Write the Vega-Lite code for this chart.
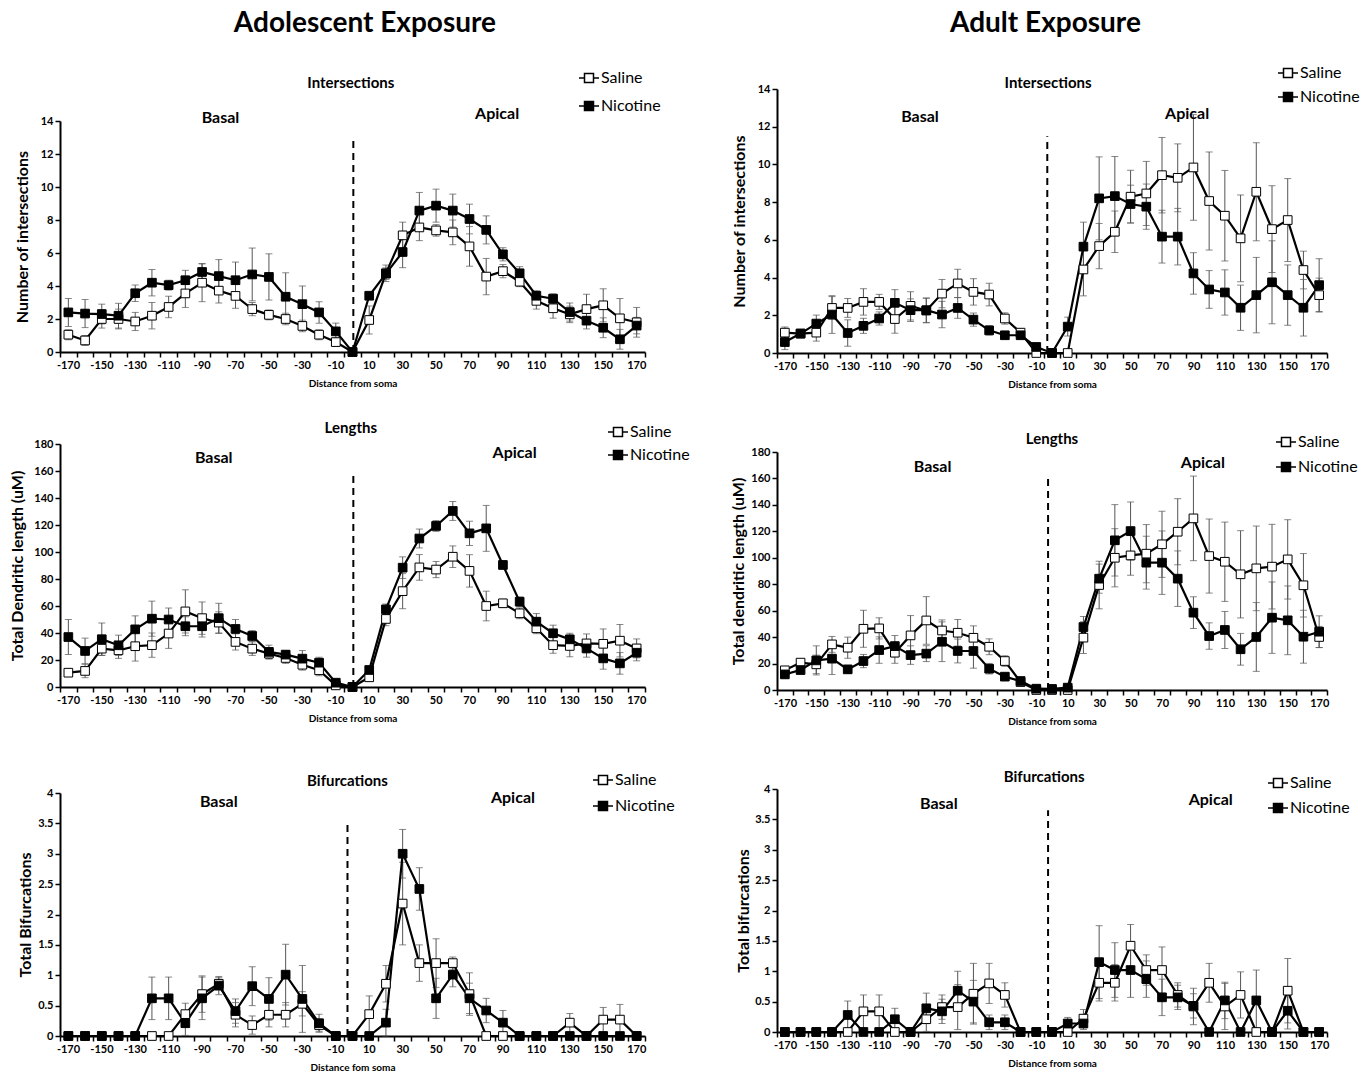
{
"$schema":"https://vega.github.io/schema/vega-lite/v6.json",
"background":"white",
"padding":{"left":9,"top":10,"right":5,"bottom":5},
"config":{"view":{"stroke":null},"font":"Lato",
 "axis":{"grid":false,"domainColor":"black","domainWidth":2,"tickColor":"black","tickWidth":1.5,"tickSize":5,"labelColor":"black","labelFont":"Lato","labelFontSize":11,"labelFontWeight":"bold","titleColor":"black","titleFont":"Lato","titleFontWeight":"bold"},
 "axisY":{"titleFontSize":16,"titlePadding":6,"format":".2~f","labelOverlap":false},
 "axisX":{"titleFontSize":10,"titlePadding":8,"labelFlush":false,"labelOverlap":false},
 "legend":{"title":null,"orient":"none","symbolType":"M-1,0H-0.45M0.45,0H1M-0.45,-0.45H0.45V0.45H-0.45Z","symbolSize":400,"symbolStrokeColor":"black","symbolStrokeWidth":1.5,"labelFontSize":16,"labelFont":"Lato","labelColor":"black","labelOffset":1,"rowPadding":10}
},
"datasets":{
"ai":[
{"d":-170,"g":"Saline","v":1.05,"e":0.3},{"d":-160,"g":"Saline","v":0.7,"e":0.3},{"d":-150,"g":"Saline","v":2.0,"e":0.55},{"d":-140,"g":"Saline","v":2.0,"e":0.6},{"d":-130,"g":"Saline","v":1.85,"e":0.55},{"d":-120,"g":"Saline","v":2.2,"e":0.8},{"d":-110,"g":"Saline","v":2.73,"e":0.65},{"d":-100,"g":"Saline","v":3.55,"e":0.85},{"d":-90,"g":"Saline","v":4.2,"e":1.15},{"d":-80,"g":"Saline","v":3.72,"e":0.75},{"d":-70,"g":"Saline","v":3.4,"e":0.75},{"d":-60,"g":"Saline","v":2.6,"e":0.4},{"d":-50,"g":"Saline","v":2.25,"e":0.3},{"d":-40,"g":"Saline","v":2.0,"e":0.35},{"d":-30,"g":"Saline","v":1.58,"e":0.35},{"d":-20,"g":"Saline","v":1.05,"e":0.3},{"d":-10,"g":"Saline","v":0.6,"e":0.25},{"d":0,"g":"Saline","v":0,"e":0},{"d":10,"g":"Saline","v":1.94,"e":0.85},{"d":20,"g":"Saline","v":4.77,"e":0.5},{"d":30,"g":"Saline","v":7.07,"e":0.8},{"d":40,"g":"Saline","v":7.55,"e":0.8},{"d":50,"g":"Saline","v":7.37,"e":0.35},{"d":60,"g":"Saline","v":7.25,"e":0.75},{"d":70,"g":"Saline","v":6.4,"e":1.2},{"d":80,"g":"Saline","v":4.57,"e":1.1},{"d":90,"g":"Saline","v":4.9,"e":0.4},{"d":100,"g":"Saline","v":4.26,"e":0.3},{"d":110,"g":"Saline","v":3.1,"e":0.5},{"d":120,"g":"Saline","v":2.65,"e":0.6},{"d":130,"g":"Saline","v":2.28,"e":0.5},{"d":140,"g":"Saline","v":2.6,"e":0.9},{"d":150,"g":"Saline","v":2.83,"e":1.0},{"d":160,"g":"Saline","v":2.04,"e":1.2},{"d":170,"g":"Saline","v":1.8,"e":0.9},
{"d":-170,"g":"Nicotine","v":2.4,"e":0.85},{"d":-160,"g":"Nicotine","v":2.33,"e":0.85},{"d":-150,"g":"Nicotine","v":2.3,"e":0.6},{"d":-140,"g":"Nicotine","v":2.2,"e":0.75},{"d":-130,"g":"Nicotine","v":3.56,"e":0.5},{"d":-120,"g":"Nicotine","v":4.2,"e":0.8},{"d":-110,"g":"Nicotine","v":4.05,"e":0.3},{"d":-100,"g":"Nicotine","v":4.35,"e":0.6},{"d":-90,"g":"Nicotine","v":4.85,"e":0.5},{"d":-80,"g":"Nicotine","v":4.6,"e":1.0},{"d":-70,"g":"Nicotine","v":4.35,"e":1.1},{"d":-60,"g":"Nicotine","v":4.7,"e":1.6},{"d":-50,"g":"Nicotine","v":4.55,"e":1.4},{"d":-40,"g":"Nicotine","v":3.35,"e":1.45},{"d":-30,"g":"Nicotine","v":2.9,"e":1.1},{"d":-20,"g":"Nicotine","v":2.4,"e":0.65},{"d":-10,"g":"Nicotine","v":1.25,"e":0.5},{"d":0,"g":"Nicotine","v":0,"e":0},{"d":10,"g":"Nicotine","v":3.41,"e":0.2},{"d":20,"g":"Nicotine","v":4.75,"e":0.35},{"d":30,"g":"Nicotine","v":6.06,"e":0.95},{"d":40,"g":"Nicotine","v":8.57,"e":1.1},{"d":50,"g":"Nicotine","v":8.87,"e":1.0},{"d":60,"g":"Nicotine","v":8.57,"e":1.0},{"d":70,"g":"Nicotine","v":8.06,"e":0.9},{"d":80,"g":"Nicotine","v":7.4,"e":0.85},{"d":90,"g":"Nicotine","v":5.92,"e":0.4},{"d":100,"g":"Nicotine","v":4.77,"e":0.4},{"d":110,"g":"Nicotine","v":3.41,"e":0.3},{"d":120,"g":"Nicotine","v":3.23,"e":0.3},{"d":130,"g":"Nicotine","v":2.42,"e":0.55},{"d":140,"g":"Nicotine","v":1.9,"e":0.5},{"d":150,"g":"Nicotine","v":1.47,"e":0.6},{"d":160,"g":"Nicotine","v":0.77,"e":0.6},{"d":170,"g":"Nicotine","v":1.6,"e":0.5}
],
"bi":[
{"d":-170,"g":"Saline","v":1.08,"e":0.3},{"d":-160,"g":"Saline","v":1.03,"e":0.2},{"d":-150,"g":"Saline","v":1.08,"e":0.45},{"d":-140,"g":"Saline","v":2.39,"e":0.6},{"d":-130,"g":"Saline","v":2.39,"e":0.5},{"d":-120,"g":"Saline","v":2.71,"e":0.7},{"d":-110,"g":"Saline","v":2.71,"e":0.4},{"d":-100,"g":"Saline","v":1.8,"e":0.75},{"d":-90,"g":"Saline","v":2.5,"e":0.75},{"d":-80,"g":"Saline","v":2.25,"e":0.65},{"d":-70,"g":"Saline","v":3.15,"e":0.75},{"d":-60,"g":"Saline","v":3.69,"e":0.75},{"d":-50,"g":"Saline","v":3.24,"e":0.7},{"d":-40,"g":"Saline","v":3.1,"e":0.6},{"d":-30,"g":"Saline","v":1.83,"e":0.3},{"d":-20,"g":"Saline","v":1.08,"e":0.2},{"d":-10,"g":"Saline","v":0,"e":0},{"d":0,"g":"Saline","v":0,"e":0},{"d":10,"g":"Saline","v":0,"e":0},{"d":20,"g":"Saline","v":4.43,"e":1.4},{"d":30,"g":"Saline","v":5.67,"e":1.2},{"d":40,"g":"Saline","v":6.43,"e":1.1},{"d":50,"g":"Saline","v":8.29,"e":1.4},{"d":60,"g":"Saline","v":8.46,"e":1.7},{"d":70,"g":"Saline","v":9.43,"e":2.0},{"d":80,"g":"Saline","v":9.29,"e":1.8},{"d":90,"g":"Saline","v":9.84,"e":2.8},{"d":100,"g":"Saline","v":8.06,"e":2.6},{"d":110,"g":"Saline","v":7.28,"e":2.4},{"d":120,"g":"Saline","v":6.08,"e":2.3},{"d":130,"g":"Saline","v":8.55,"e":2.6},{"d":140,"g":"Saline","v":6.57,"e":2.3},{"d":150,"g":"Saline","v":7.05,"e":2.2},{"d":160,"g":"Saline","v":4.4,"e":1.0},{"d":170,"g":"Saline","v":3.07,"e":0.9},
{"d":-170,"g":"Nicotine","v":0.58,"e":0.4},{"d":-160,"g":"Nicotine","v":1.03,"e":0.1},{"d":-150,"g":"Nicotine","v":1.56,"e":0.45},{"d":-140,"g":"Nicotine","v":2.04,"e":1.0},{"d":-130,"g":"Nicotine","v":1.06,"e":0.7},{"d":-120,"g":"Nicotine","v":1.44,"e":0.4},{"d":-110,"g":"Nicotine","v":1.83,"e":0.35},{"d":-100,"g":"Nicotine","v":2.66,"e":0.7},{"d":-90,"g":"Nicotine","v":2.27,"e":0.6},{"d":-80,"g":"Nicotine","v":2.27,"e":0.65},{"d":-70,"g":"Nicotine","v":2.04,"e":0.7},{"d":-60,"g":"Nicotine","v":2.39,"e":0.55},{"d":-50,"g":"Nicotine","v":1.77,"e":0.35},{"d":-40,"g":"Nicotine","v":1.2,"e":0.25},{"d":-30,"g":"Nicotine","v":0.94,"e":0.15},{"d":-20,"g":"Nicotine","v":0.94,"e":0.15},{"d":-10,"g":"Nicotine","v":0.32,"e":0.1},{"d":0,"g":"Nicotine","v":0,"e":0},{"d":10,"g":"Nicotine","v":1.4,"e":0.5},{"d":20,"g":"Nicotine","v":5.64,"e":1.3},{"d":30,"g":"Nicotine","v":8.2,"e":2.2},{"d":40,"g":"Nicotine","v":8.32,"e":2.1},{"d":50,"g":"Nicotine","v":7.9,"e":1.0},{"d":60,"g":"Nicotine","v":7.76,"e":1.2},{"d":70,"g":"Nicotine","v":6.17,"e":1.4},{"d":80,"g":"Nicotine","v":6.17,"e":1.5},{"d":90,"g":"Nicotine","v":4.22,"e":1.1},{"d":100,"g":"Nicotine","v":3.37,"e":1.0},{"d":110,"g":"Nicotine","v":3.21,"e":1.2},{"d":120,"g":"Nicotine","v":2.4,"e":1.2},{"d":130,"g":"Nicotine","v":3.07,"e":2.0},{"d":140,"g":"Nicotine","v":3.75,"e":2.2},{"d":150,"g":"Nicotine","v":3.07,"e":1.6},{"d":160,"g":"Nicotine","v":2.4,"e":1.5},{"d":170,"g":"Nicotine","v":3.6,"e":1.4}
],
"al":[
{"d":-170,"g":"Saline","v":10.6,"e":1},{"d":-160,"g":"Saline","v":11.9,"e":5},{"d":-150,"g":"Saline","v":28.4,"e":5},{"d":-140,"g":"Saline","v":27.2,"e":6},{"d":-130,"g":"Saline","v":30.2,"e":11},{"d":-120,"g":"Saline","v":31,"e":9},{"d":-110,"g":"Saline","v":39.6,"e":11},{"d":-100,"g":"Saline","v":56,"e":16},{"d":-90,"g":"Saline","v":51,"e":12},{"d":-80,"g":"Saline","v":47.7,"e":8},{"d":-70,"g":"Saline","v":33.4,"e":6},{"d":-60,"g":"Saline","v":28.4,"e":5},{"d":-50,"g":"Saline","v":24.7,"e":4},{"d":-40,"g":"Saline","v":21.5,"e":4},{"d":-30,"g":"Saline","v":16.5,"e":4},{"d":-20,"g":"Saline","v":12.4,"e":4},{"d":-10,"g":"Saline","v":1.2,"e":1},{"d":0,"g":"Saline","v":0,"e":0},{"d":10,"g":"Saline","v":7.2,"e":2},{"d":20,"g":"Saline","v":50.4,"e":5},{"d":30,"g":"Saline","v":71,"e":13},{"d":40,"g":"Saline","v":88.6,"e":9.5},{"d":50,"g":"Saline","v":87,"e":6},{"d":60,"g":"Saline","v":96.5,"e":8},{"d":70,"g":"Saline","v":86,"e":12},{"d":80,"g":"Saline","v":60,"e":11},{"d":90,"g":"Saline","v":62,"e":3},{"d":100,"g":"Saline","v":54.6,"e":4},{"d":110,"g":"Saline","v":43.5,"e":4},{"d":120,"g":"Saline","v":31,"e":6},{"d":130,"g":"Saline","v":30.4,"e":8},{"d":140,"g":"Saline","v":32.3,"e":7},{"d":150,"g":"Saline","v":32,"e":11},{"d":160,"g":"Saline","v":34.3,"e":12},{"d":170,"g":"Saline","v":28.6,"e":7},
{"d":-170,"g":"Nicotine","v":37,"e":13},{"d":-160,"g":"Nicotine","v":26.7,"e":9.5},{"d":-150,"g":"Nicotine","v":35.4,"e":12},{"d":-140,"g":"Nicotine","v":30.9,"e":7.5},{"d":-130,"g":"Nicotine","v":42.7,"e":10},{"d":-120,"g":"Nicotine","v":50.6,"e":13},{"d":-110,"g":"Nicotine","v":50,"e":8.5},{"d":-100,"g":"Nicotine","v":45,"e":7},{"d":-90,"g":"Nicotine","v":45,"e":8},{"d":-80,"g":"Nicotine","v":51,"e":11},{"d":-70,"g":"Nicotine","v":43,"e":7},{"d":-60,"g":"Nicotine","v":37.8,"e":4},{"d":-50,"g":"Nicotine","v":26,"e":5},{"d":-40,"g":"Nicotine","v":24,"e":3},{"d":-30,"g":"Nicotine","v":21,"e":6},{"d":-20,"g":"Nicotine","v":18,"e":4},{"d":-10,"g":"Nicotine","v":3.2,"e":1},{"d":0,"g":"Nicotine","v":0,"e":0},{"d":10,"g":"Nicotine","v":12.6,"e":2},{"d":20,"g":"Nicotine","v":57.5,"e":4},{"d":30,"g":"Nicotine","v":88.4,"e":8},{"d":40,"g":"Nicotine","v":110,"e":7},{"d":50,"g":"Nicotine","v":119.3,"e":4},{"d":60,"g":"Nicotine","v":130.4,"e":7},{"d":70,"g":"Nicotine","v":113.8,"e":9},{"d":80,"g":"Nicotine","v":117.5,"e":17},{"d":90,"g":"Nicotine","v":90.4,"e":3},{"d":100,"g":"Nicotine","v":63.2,"e":3.5},{"d":110,"g":"Nicotine","v":48.4,"e":6},{"d":120,"g":"Nicotine","v":39.8,"e":6},{"d":130,"g":"Nicotine","v":35.3,"e":4.5},{"d":140,"g":"Nicotine","v":28.6,"e":6.5},{"d":150,"g":"Nicotine","v":21.2,"e":8},{"d":160,"g":"Nicotine","v":17.5,"e":8},{"d":170,"g":"Nicotine","v":25.4,"e":6}
],
"bl":[
{"d":-170,"g":"Saline","v":14.9,"e":2},{"d":-160,"g":"Saline","v":20.7,"e":2},{"d":-150,"g":"Saline","v":19.4,"e":7},{"d":-140,"g":"Saline","v":34.5,"e":6},{"d":-130,"g":"Saline","v":32,"e":8},{"d":-120,"g":"Saline","v":46.3,"e":14},{"d":-110,"g":"Saline","v":46.6,"e":8},{"d":-100,"g":"Saline","v":28.2,"e":8},{"d":-90,"g":"Saline","v":41.3,"e":15},{"d":-80,"g":"Saline","v":52.6,"e":18},{"d":-70,"g":"Saline","v":45,"e":8},{"d":-60,"g":"Saline","v":43.3,"e":10},{"d":-50,"g":"Saline","v":39.5,"e":9},{"d":-40,"g":"Saline","v":32.7,"e":6},{"d":-30,"g":"Saline","v":21.9,"e":4},{"d":-20,"g":"Saline","v":6,"e":1},{"d":-10,"g":"Saline","v":0,"e":0},{"d":0,"g":"Saline","v":0,"e":0},{"d":10,"g":"Saline","v":0,"e":0},{"d":20,"g":"Saline","v":39.6,"e":12},{"d":30,"g":"Saline","v":79.4,"e":18},{"d":40,"g":"Saline","v":100,"e":22},{"d":50,"g":"Saline","v":101.8,"e":15},{"d":60,"g":"Saline","v":103.1,"e":22},{"d":70,"g":"Saline","v":110.2,"e":25},{"d":80,"g":"Saline","v":119.7,"e":25},{"d":90,"g":"Saline","v":129.8,"e":32},{"d":100,"g":"Saline","v":101.3,"e":28},{"d":110,"g":"Saline","v":97,"e":30},{"d":120,"g":"Saline","v":87.5,"e":33},{"d":130,"g":"Saline","v":92,"e":32},{"d":140,"g":"Saline","v":93.3,"e":32},{"d":150,"g":"Saline","v":98.8,"e":30},{"d":160,"g":"Saline","v":79.2,"e":24},{"d":170,"g":"Saline","v":40.1,"e":8},
{"d":-170,"g":"Nicotine","v":11.8,"e":3},{"d":-160,"g":"Nicotine","v":15.1,"e":3},{"d":-150,"g":"Nicotine","v":22.4,"e":11},{"d":-140,"g":"Nicotine","v":23.7,"e":12},{"d":-130,"g":"Nicotine","v":15.6,"e":3},{"d":-120,"g":"Nicotine","v":21.9,"e":5},{"d":-110,"g":"Nicotine","v":30.2,"e":10},{"d":-100,"g":"Nicotine","v":33.2,"e":8},{"d":-90,"g":"Nicotine","v":26.4,"e":7},{"d":-80,"g":"Nicotine","v":27.5,"e":6},{"d":-70,"g":"Nicotine","v":36.5,"e":15},{"d":-60,"g":"Nicotine","v":29.5,"e":9},{"d":-50,"g":"Nicotine","v":29.5,"e":13},{"d":-40,"g":"Nicotine","v":16.1,"e":4},{"d":-30,"g":"Nicotine","v":10.1,"e":2},{"d":-20,"g":"Nicotine","v":6.8,"e":1},{"d":-10,"g":"Nicotine","v":1,"e":0},{"d":0,"g":"Nicotine","v":0.8,"e":0},{"d":10,"g":"Nicotine","v":1.8,"e":1},{"d":20,"g":"Nicotine","v":47.6,"e":8},{"d":30,"g":"Nicotine","v":84.2,"e":11},{"d":40,"g":"Nicotine","v":113.2,"e":27},{"d":50,"g":"Nicotine","v":120.2,"e":22},{"d":60,"g":"Nicotine","v":96.3,"e":20},{"d":70,"g":"Nicotine","v":96.3,"e":24},{"d":80,"g":"Nicotine","v":84.2,"e":21},{"d":90,"g":"Nicotine","v":58.5,"e":12},{"d":100,"g":"Nicotine","v":40.8,"e":10},{"d":110,"g":"Nicotine","v":45.4,"e":14},{"d":120,"g":"Nicotine","v":30.8,"e":12},{"d":130,"g":"Nicotine","v":40.1,"e":26},{"d":140,"g":"Nicotine","v":54.7,"e":27},{"d":150,"g":"Nicotine","v":52.7,"e":26},{"d":160,"g":"Nicotine","v":40.3,"e":20},{"d":170,"g":"Nicotine","v":44.1,"e":12}
],
"ab":[
{"d":-170,"g":"Saline","v":0,"e":0},{"d":-160,"g":"Saline","v":0,"e":0},{"d":-150,"g":"Saline","v":0,"e":0},{"d":-140,"g":"Saline","v":0,"e":0},{"d":-130,"g":"Saline","v":0,"e":0},{"d":-120,"g":"Saline","v":0,"e":0},{"d":-110,"g":"Saline","v":0,"e":0},{"d":-100,"g":"Saline","v":0.36,"e":0.18},{"d":-90,"g":"Saline","v":0.69,"e":0.3},{"d":-80,"g":"Saline","v":0.86,"e":0.1},{"d":-70,"g":"Saline","v":0.35,"e":0.2},{"d":-60,"g":"Saline","v":0.18,"e":0.15},{"d":-50,"g":"Saline","v":0.35,"e":0.2},{"d":-40,"g":"Saline","v":0.35,"e":0.2},{"d":-30,"g":"Saline","v":0.53,"e":0.2},{"d":-20,"g":"Saline","v":0.18,"e":0.1},{"d":-10,"g":"Saline","v":0,"e":0},{"d":0,"g":"Saline","v":0,"e":0},{"d":10,"g":"Saline","v":0.36,"e":0.3},{"d":20,"g":"Saline","v":0.86,"e":0.3},{"d":30,"g":"Saline","v":2.18,"e":0.68},{"d":40,"g":"Saline","v":1.2,"e":0.3},{"d":50,"g":"Saline","v":1.2,"e":0.4},{"d":60,"g":"Saline","v":1.2,"e":0.1},{"d":70,"g":"Saline","v":0.69,"e":0.35},{"d":80,"g":"Saline","v":0,"e":0},{"d":90,"g":"Saline","v":0,"e":0},{"d":100,"g":"Saline","v":0,"e":0},{"d":110,"g":"Saline","v":0,"e":0},{"d":120,"g":"Saline","v":0,"e":0},{"d":130,"g":"Saline","v":0.22,"e":0.15},{"d":140,"g":"Saline","v":0,"e":0},{"d":150,"g":"Saline","v":0.27,"e":0.2},{"d":160,"g":"Saline","v":0.27,"e":0.25},{"d":170,"g":"Saline","v":0,"e":0},
{"d":-170,"g":"Nicotine","v":0,"e":0},{"d":-160,"g":"Nicotine","v":0,"e":0},{"d":-150,"g":"Nicotine","v":0,"e":0},{"d":-140,"g":"Nicotine","v":0,"e":0},{"d":-130,"g":"Nicotine","v":0,"e":0},{"d":-120,"g":"Nicotine","v":0.62,"e":0.35},{"d":-110,"g":"Nicotine","v":0.62,"e":0.35},{"d":-100,"g":"Nicotine","v":0.21,"e":0.2},{"d":-90,"g":"Nicotine","v":0.62,"e":0.35},{"d":-80,"g":"Nicotine","v":0.83,"e":0.15},{"d":-70,"g":"Nicotine","v":0.41,"e":0.2},{"d":-60,"g":"Nicotine","v":0.82,"e":0.32},{"d":-50,"g":"Nicotine","v":0.61,"e":0.35},{"d":-40,"g":"Nicotine","v":1.01,"e":0.5},{"d":-30,"g":"Nicotine","v":0.61,"e":0.55},{"d":-20,"g":"Nicotine","v":0.21,"e":0.15},{"d":-10,"g":"Nicotine","v":0,"e":0},{"d":0,"g":"Nicotine","v":0,"e":0},{"d":10,"g":"Nicotine","v":0,"e":0},{"d":20,"g":"Nicotine","v":0.22,"e":0.22},{"d":30,"g":"Nicotine","v":3.0,"e":0.4},{"d":40,"g":"Nicotine","v":2.42,"e":0.35},{"d":50,"g":"Nicotine","v":0.62,"e":0.33},{"d":60,"g":"Nicotine","v":1.01,"e":0.2},{"d":70,"g":"Nicotine","v":0.62,"e":0.25},{"d":80,"g":"Nicotine","v":0.42,"e":0.2},{"d":90,"g":"Nicotine","v":0.22,"e":0.2},{"d":100,"g":"Nicotine","v":0,"e":0},{"d":110,"g":"Nicotine","v":0,"e":0},{"d":120,"g":"Nicotine","v":0,"e":0},{"d":130,"g":"Nicotine","v":0,"e":0},{"d":140,"g":"Nicotine","v":0,"e":0},{"d":150,"g":"Nicotine","v":0,"e":0},{"d":160,"g":"Nicotine","v":0,"e":0},{"d":170,"g":"Nicotine","v":0,"e":0}
],
"bb":[
{"d":-170,"g":"Saline","v":0,"e":0},{"d":-160,"g":"Saline","v":0,"e":0},{"d":-150,"g":"Saline","v":0,"e":0},{"d":-140,"g":"Saline","v":0,"e":0},{"d":-130,"g":"Saline","v":0,"e":0},{"d":-120,"g":"Saline","v":0.34,"e":0.27},{"d":-110,"g":"Saline","v":0.34,"e":0.27},{"d":-100,"g":"Saline","v":0,"e":0},{"d":-90,"g":"Saline","v":0,"e":0},{"d":-80,"g":"Saline","v":0.21,"e":0.2},{"d":-70,"g":"Saline","v":0.41,"e":0.2},{"d":-60,"g":"Saline","v":0.41,"e":0.37},{"d":-50,"g":"Saline","v":0.63,"e":0.5},{"d":-40,"g":"Saline","v":0.8,"e":0.33},{"d":-30,"g":"Saline","v":0.61,"e":0.2},{"d":-20,"g":"Saline","v":0,"e":0},{"d":-10,"g":"Saline","v":0,"e":0},{"d":0,"g":"Saline","v":0,"e":0},{"d":10,"g":"Saline","v":0,"e":0},{"d":20,"g":"Saline","v":0.22,"e":0.15},{"d":30,"g":"Saline","v":0.81,"e":0.3},{"d":40,"g":"Saline","v":0.81,"e":0.3},{"d":50,"g":"Saline","v":1.42,"e":0.35},{"d":60,"g":"Saline","v":1.02,"e":0.25},{"d":70,"g":"Saline","v":1.02,"e":0.38},{"d":80,"g":"Saline","v":0.61,"e":0.2},{"d":90,"g":"Saline","v":0.42,"e":0.3},{"d":100,"g":"Saline","v":0.81,"e":0.32},{"d":110,"g":"Saline","v":0.42,"e":0.38},{"d":120,"g":"Saline","v":0.61,"e":0.38},{"d":130,"g":"Saline","v":0,"e":0},{"d":140,"g":"Saline","v":0,"e":0},{"d":150,"g":"Saline","v":0.68,"e":0.53},{"d":160,"g":"Saline","v":0,"e":0},{"d":170,"g":"Saline","v":0,"e":0},
{"d":-170,"g":"Nicotine","v":0,"e":0},{"d":-160,"g":"Nicotine","v":0,"e":0},{"d":-150,"g":"Nicotine","v":0,"e":0},{"d":-140,"g":"Nicotine","v":0,"e":0},{"d":-130,"g":"Nicotine","v":0.28,"e":0.23},{"d":-120,"g":"Nicotine","v":0,"e":0},{"d":-110,"g":"Nicotine","v":0,"e":0},{"d":-100,"g":"Nicotine","v":0.21,"e":0.18},{"d":-90,"g":"Nicotine","v":0,"e":0},{"d":-80,"g":"Nicotine","v":0.39,"e":0.25},{"d":-70,"g":"Nicotine","v":0.34,"e":0.2},{"d":-60,"g":"Nicotine","v":0.68,"e":0.32},{"d":-50,"g":"Nicotine","v":0.5,"e":0.35},{"d":-40,"g":"Nicotine","v":0.16,"e":0.12},{"d":-30,"g":"Nicotine","v":0.16,"e":0.12},{"d":-20,"g":"Nicotine","v":0,"e":0},{"d":-10,"g":"Nicotine","v":0,"e":0},{"d":0,"g":"Nicotine","v":0,"e":0},{"d":10,"g":"Nicotine","v":0.14,"e":0.1},{"d":20,"g":"Nicotine","v":0.14,"e":0.1},{"d":30,"g":"Nicotine","v":1.15,"e":0.6},{"d":40,"g":"Nicotine","v":1.02,"e":0.45},{"d":50,"g":"Nicotine","v":1.02,"e":0.45},{"d":60,"g":"Nicotine","v":0.87,"e":0.3},{"d":70,"g":"Nicotine","v":0.57,"e":0.3},{"d":80,"g":"Nicotine","v":0.57,"e":0.2},{"d":90,"g":"Nicotine","v":0.43,"e":0.2},{"d":100,"g":"Nicotine","v":0,"e":0},{"d":110,"g":"Nicotine","v":0.52,"e":0.3},{"d":120,"g":"Nicotine","v":0,"e":0},{"d":130,"g":"Nicotine","v":0.52,"e":0.5},{"d":140,"g":"Nicotine","v":0,"e":0},{"d":150,"g":"Nicotine","v":0.35,"e":0.3},{"d":160,"g":"Nicotine","v":0,"e":0},{"d":170,"g":"Nicotine","v":0,"e":0}
]
},
"hconcat":[
{"title":{"text":"Adolescent Exposure","fontSize":28,"fontWeight":"bold","font":"Lato","color":"black","anchor":"middle","offset":29,"dx":15},
 "bounds":"flush","spacing":92,
 "resolve":{"scale":{"fill":"independent","x":"independent","y":"independent"},"legend":{"fill":"independent"}},
 "vconcat":[
 {"width":585,"height":263,"data":{"name":"ai"},
  "layer":[
   {"transform":[{"filter":"datum.e > 0"}],"mark":{"type":"errorbar","ticks":{"size":7},"color":"#555","thickness":1},"encoding":{
     "x":{"field":"d","type":"quantitative","scale":{"domain":[-175,175],"nice":false,"zero":false},"axis":{"title":"Distance from soma","labelOffset":8,"labelOverlap":false,"labelFlush":false,"values":[-175,-165,-155,-145,-135,-125,-115,-105,-95,-85,-75,-65,-55,-45,-35,-25,-15,-5,5,15,25,35,45,55,65,75,85,95,105,115,125,135,145,155,165,175],"labelExpr":"abs(datum.value + 5) % 20 == 10 ? '' + (datum.value + 5) : ''"}},
     "y":{"field":"v","type":"quantitative","scale":{"domain":[0,14],"range":[263,32],"nice":false},"axis":{"title":"Number of intersections","titlePadding":10,"labelOverlap":false,"values":[0,2,4,6,8,10,12,14]}},
     "yError":{"field":"e"}}},
   {"mark":{"type":"line","color":"black","strokeWidth":2.2},"encoding":{
     "x":{"field":"d","type":"quantitative","scale":{"domain":[-175,175],"nice":false,"zero":false},"axis":{"title":"Distance from soma","labelOffset":8,"labelOverlap":false,"labelFlush":false,"values":[-175,-165,-155,-145,-135,-125,-115,-105,-95,-85,-75,-65,-55,-45,-35,-25,-15,-5,5,15,25,35,45,55,65,75,85,95,105,115,125,135,145,155,165,175],"labelExpr":"abs(datum.value + 5) % 20 == 10 ? '' + (datum.value + 5) : ''"}},
     "y":{"field":"v","type":"quantitative","scale":{"domain":[0,14],"range":[263,32],"nice":false},"axis":{"title":"Number of intersections","titlePadding":10,"labelOverlap":false,"values":[0,2,4,6,8,10,12,14]}},
     "detail":{"field":"g"}}},
   {"mark":{"type":"point","shape":"square","filled":true,"size":75,"stroke":"black","strokeWidth":1,"opacity":1},"encoding":{
     "x":{"field":"d","type":"quantitative","scale":{"domain":[-175,175],"nice":false,"zero":false},"axis":{"title":"Distance from soma","labelOffset":8,"labelOverlap":false,"labelFlush":false,"values":[-175,-165,-155,-145,-135,-125,-115,-105,-95,-85,-75,-65,-55,-45,-35,-25,-15,-5,5,15,25,35,45,55,65,75,85,95,105,115,125,135,145,155,165,175],"labelExpr":"abs(datum.value + 5) % 20 == 10 ? '' + (datum.value + 5) : ''"}},
     "y":{"field":"v","type":"quantitative","scale":{"domain":[0,14],"range":[263,32],"nice":false},"axis":{"title":"Number of intersections","titlePadding":10,"labelOverlap":false,"values":[0,2,4,6,8,10,12,14]}},
     "fill":{"field":"g","type":"nominal","scale":{"domain":["Saline","Nicotine"],"range":["white","black"]},"legend":{"legendX":518,"legendY":-22,"rowPadding":9}}}},
   {"data":{"values":[{}]},"mark":{"type":"rule","strokeDash":[7,5],"strokeWidth":2,"color":"black"},"encoding":{"x":{"datum":0.5,"type":"quantitative","axis":{"title":"Distance from soma","labelOffset":8,"labelOverlap":false,"labelFlush":false,"values":[-175,-165,-155,-145,-135,-125,-115,-105,-95,-85,-75,-65,-55,-45,-35,-25,-15,-5,5,15,25,35,45,55,65,75,85,95,105,115,125,135,145,155,165,175],"labelExpr":"abs(datum.value + 5) % 20 == 10 ? '' + (datum.value + 5) : ''"}},"y":{"datum":0,"type":"quantitative","axis":{"title":"Number of intersections","titlePadding":10,"labelOverlap":false,"values":[0,2,4,6,8,10,12,14]}},"y2":{"datum":13}}},
   {"data":{"values":[{"t":"Basal"},{"t":"Apical"},{"t":"Intersections"}]},"transform":[{"filter":"datum.t == 'Basal'"}],"mark":{"type":"text","fontSize":16,"fontWeight":"bold","color":"black"},"encoding":{"text":{"field":"t","type":"nominal"},"x":{"datum":-79,"type":"quantitative","axis":{"title":"Distance from soma","labelOffset":8,"labelOverlap":false,"labelFlush":false,"values":[-175,-165,-155,-145,-135,-125,-115,-105,-95,-85,-75,-65,-55,-45,-35,-25,-15,-5,5,15,25,35,45,55,65,75,85,95,105,115,125,135,145,155,165,175],"labelExpr":"abs(datum.value + 5) % 20 == 10 ? '' + (datum.value + 5) : ''"}},"y":{"datum":14.2,"type":"quantitative","axis":{"title":"Number of intersections","titlePadding":10,"labelOverlap":false,"values":[0,2,4,6,8,10,12,14]}}}},
   {"data":{"values":[{"t":"Apical"}]},"mark":{"type":"text","fontSize":16,"fontWeight":"bold","color":"black"},"encoding":{"text":{"field":"t","type":"nominal"},"x":{"datum":86.5,"type":"quantitative","axis":{"title":"Distance from soma","labelOffset":8,"labelOverlap":false,"labelFlush":false,"values":[-175,-165,-155,-145,-135,-125,-115,-105,-95,-85,-75,-65,-55,-45,-35,-25,-15,-5,5,15,25,35,45,55,65,75,85,95,105,115,125,135,145,155,165,175],"labelExpr":"abs(datum.value + 5) % 20 == 10 ? '' + (datum.value + 5) : ''"}},"y":{"datum":14.4,"type":"quantitative","axis":{"title":"Number of intersections","titlePadding":10,"labelOverlap":false,"values":[0,2,4,6,8,10,12,14]}}}},
   {"data":{"values":[{"t":"Intersections"}]},"mark":{"type":"text","fontSize":15,"fontWeight":"bold","color":"black"},"encoding":{"text":{"field":"t","type":"nominal"},"x":{"datum":-1,"type":"quantitative","axis":{"title":"Distance from soma","labelOffset":8,"labelOverlap":false,"labelFlush":false,"values":[-175,-165,-155,-145,-135,-125,-115,-105,-95,-85,-75,-65,-55,-45,-35,-25,-15,-5,5,15,25,35,45,55,65,75,85,95,105,115,125,135,145,155,165,175],"labelExpr":"abs(datum.value + 5) % 20 == 10 ? '' + (datum.value + 5) : ''"}},"y":{"datum":16.28,"type":"quantitative","axis":{"title":"Number of intersections","titlePadding":10,"labelOverlap":false,"values":[0,2,4,6,8,10,12,14]}}}}
  ]},
 {"width":585,"height":243,"data":{"name":"al"},
  "layer":[
   {"transform":[{"filter":"datum.e > 0"}],"mark":{"type":"errorbar","ticks":{"size":7},"color":"#555","thickness":1},"encoding":{
     "x":{"field":"d","type":"quantitative","scale":{"domain":[-175,175],"nice":false,"zero":false},"axis":{"title":"Distance from soma","labelOffset":8,"labelOverlap":false,"labelFlush":false,"values":[-175,-165,-155,-145,-135,-125,-115,-105,-95,-85,-75,-65,-55,-45,-35,-25,-15,-5,5,15,25,35,45,55,65,75,85,95,105,115,125,135,145,155,165,175],"labelExpr":"abs(datum.value + 5) % 20 == 10 ? '' + (datum.value + 5) : ''"}},
     "y":{"field":"v","type":"quantitative","scale":{"domain":[0,180],"nice":false},"axis":{"title":"Total Dendritic length (uM)","titlePadding":8,"labelOverlap":false,"values":[0,20,40,60,80,100,120,140,160,180]}},
     "yError":{"field":"e"}}},
   {"mark":{"type":"line","color":"black","strokeWidth":2.2},"encoding":{
     "x":{"field":"d","type":"quantitative","scale":{"domain":[-175,175],"nice":false,"zero":false},"axis":{"title":"Distance from soma","labelOffset":8,"labelOverlap":false,"labelFlush":false,"values":[-175,-165,-155,-145,-135,-125,-115,-105,-95,-85,-75,-65,-55,-45,-35,-25,-15,-5,5,15,25,35,45,55,65,75,85,95,105,115,125,135,145,155,165,175],"labelExpr":"abs(datum.value + 5) % 20 == 10 ? '' + (datum.value + 5) : ''"}},
     "y":{"field":"v","type":"quantitative","scale":{"domain":[0,180],"nice":false},"axis":{"title":"Total Dendritic length (uM)","titlePadding":8,"labelOverlap":false,"values":[0,20,40,60,80,100,120,140,160,180]}},
     "detail":{"field":"g"}}},
   {"mark":{"type":"point","shape":"square","filled":true,"size":75,"stroke":"black","strokeWidth":1,"opacity":1},"encoding":{
     "x":{"field":"d","type":"quantitative","scale":{"domain":[-175,175],"nice":false,"zero":false},"axis":{"title":"Distance from soma","labelOffset":8,"labelOverlap":false,"labelFlush":false,"values":[-175,-165,-155,-145,-135,-125,-115,-105,-95,-85,-75,-65,-55,-45,-35,-25,-15,-5,5,15,25,35,45,55,65,75,85,95,105,115,125,135,145,155,165,175],"labelExpr":"abs(datum.value + 5) % 20 == 10 ? '' + (datum.value + 5) : ''"}},
     "y":{"field":"v","type":"quantitative","scale":{"domain":[0,180],"nice":false},"axis":{"title":"Total Dendritic length (uM)","titlePadding":8,"labelOverlap":false,"values":[0,20,40,60,80,100,120,140,160,180]}},
     "fill":{"field":"g","type":"nominal","scale":{"domain":["Saline","Nicotine"],"range":["white","black"]},"legend":{"legendX":547,"legendY":-23,"rowPadding":4}}}},
   {"data":{"values":[{}]},"mark":{"type":"rule","strokeDash":[7,5],"strokeWidth":2,"color":"black"},"encoding":{"x":{"datum":0.5,"type":"quantitative","axis":{"title":"Distance from soma","labelOffset":8,"labelOverlap":false,"labelFlush":false,"values":[-175,-165,-155,-145,-135,-125,-115,-105,-95,-85,-75,-65,-55,-45,-35,-25,-15,-5,5,15,25,35,45,55,65,75,85,95,105,115,125,135,145,155,165,175],"labelExpr":"abs(datum.value + 5) % 20 == 10 ? '' + (datum.value + 5) : ''"}},"y":{"datum":0,"type":"quantitative","axis":{"title":"Total Dendritic length (uM)","titlePadding":8,"labelOverlap":false,"values":[0,20,40,60,80,100,120,140,160,180]}},"y2":{"datum":157}}},
   {"data":{"values":[{"t":"Basal"}]},"mark":{"type":"text","fontSize":16,"fontWeight":"bold","color":"black"},"encoding":{"text":{"field":"t","type":"nominal"},"x":{"datum":-83,"type":"quantitative","axis":{"title":"Distance from soma","labelOffset":8,"labelOverlap":false,"labelFlush":false,"values":[-175,-165,-155,-145,-135,-125,-115,-105,-95,-85,-75,-65,-55,-45,-35,-25,-15,-5,5,15,25,35,45,55,65,75,85,95,105,115,125,135,145,155,165,175],"labelExpr":"abs(datum.value + 5) % 20 == 10 ? '' + (datum.value + 5) : ''"}},"y":{"datum":170,"type":"quantitative","axis":{"title":"Total Dendritic length (uM)","titlePadding":8,"labelOverlap":false,"values":[0,20,40,60,80,100,120,140,160,180]}}}},
   {"data":{"values":[{"t":"Apical"}]},"mark":{"type":"text","fontSize":16,"fontWeight":"bold","color":"black"},"encoding":{"text":{"field":"t","type":"nominal"},"x":{"datum":97,"type":"quantitative","axis":{"title":"Distance from soma","labelOffset":8,"labelOverlap":false,"labelFlush":false,"values":[-175,-165,-155,-145,-135,-125,-115,-105,-95,-85,-75,-65,-55,-45,-35,-25,-15,-5,5,15,25,35,45,55,65,75,85,95,105,115,125,135,145,155,165,175],"labelExpr":"abs(datum.value + 5) % 20 == 10 ? '' + (datum.value + 5) : ''"}},"y":{"datum":173,"type":"quantitative","axis":{"title":"Total Dendritic length (uM)","titlePadding":8,"labelOverlap":false,"values":[0,20,40,60,80,100,120,140,160,180]}}}},
   {"data":{"values":[{"t":"Lengths"}]},"mark":{"type":"text","fontSize":15,"fontWeight":"bold","color":"black"},"encoding":{"text":{"field":"t","type":"nominal"},"x":{"datum":-1,"type":"quantitative","axis":{"title":"Distance from soma","labelOffset":8,"labelOverlap":false,"labelFlush":false,"values":[-175,-165,-155,-145,-135,-125,-115,-105,-95,-85,-75,-65,-55,-45,-35,-25,-15,-5,5,15,25,35,45,55,65,75,85,95,105,115,125,135,145,155,165,175],"labelExpr":"abs(datum.value + 5) % 20 == 10 ? '' + (datum.value + 5) : ''"}},"y":{"datum":191.5,"type":"quantitative","axis":{"title":"Total Dendritic length (uM)","titlePadding":8,"labelOverlap":false,"values":[0,20,40,60,80,100,120,140,160,180]}}}}
  ]},
 {"width":585,"height":257,"data":{"name":"ab"},
  "layer":[
   {"transform":[{"filter":"datum.e > 0"}],"mark":{"type":"errorbar","ticks":{"size":7},"color":"#555","thickness":1},"encoding":{
     "x":{"field":"d","type":"quantitative","scale":{"domain":[-175,175],"nice":false,"zero":false},"axis":{"title":"Distance fom soma","labelOffset":8,"labelOverlap":false,"labelFlush":false,"values":[-175,-165,-155,-145,-135,-125,-115,-105,-95,-85,-75,-65,-55,-45,-35,-25,-15,-5,5,15,25,35,45,55,65,75,85,95,105,115,125,135,145,155,165,175],"labelExpr":"abs(datum.value + 5) % 20 == 10 ? '' + (datum.value + 5) : ''"}},
     "y":{"field":"v","type":"quantitative","scale":{"domain":[0,4],"range":[257,14],"nice":false},"axis":{"title":"Total Bifurcations","titlePadding":4,"labelOverlap":false,"values":[0,0.5,1,1.5,2,2.5,3,3.5,4]}},
     "yError":{"field":"e"}}},
   {"mark":{"type":"line","color":"black","strokeWidth":2.2},"encoding":{
     "x":{"field":"d","type":"quantitative","scale":{"domain":[-175,175],"nice":false,"zero":false},"axis":{"title":"Distance fom soma","labelOffset":8,"labelOverlap":false,"labelFlush":false,"values":[-175,-165,-155,-145,-135,-125,-115,-105,-95,-85,-75,-65,-55,-45,-35,-25,-15,-5,5,15,25,35,45,55,65,75,85,95,105,115,125,135,145,155,165,175],"labelExpr":"abs(datum.value + 5) % 20 == 10 ? '' + (datum.value + 5) : ''"}},
     "y":{"field":"v","type":"quantitative","scale":{"domain":[0,4],"range":[257,14],"nice":false},"axis":{"title":"Total Bifurcations","titlePadding":4,"labelOverlap":false,"values":[0,0.5,1,1.5,2,2.5,3,3.5,4]}},
     "detail":{"field":"g"}}},
   {"mark":{"type":"point","shape":"square","filled":true,"size":75,"stroke":"black","strokeWidth":1,"opacity":1},"encoding":{
     "x":{"field":"d","type":"quantitative","scale":{"domain":[-175,175],"nice":false,"zero":false},"axis":{"title":"Distance fom soma","labelOffset":8,"labelOverlap":false,"labelFlush":false,"values":[-175,-165,-155,-145,-135,-125,-115,-105,-95,-85,-75,-65,-55,-45,-35,-25,-15,-5,5,15,25,35,45,55,65,75,85,95,105,115,125,135,145,155,165,175],"labelExpr":"abs(datum.value + 5) % 20 == 10 ? '' + (datum.value + 5) : ''"}},
     "y":{"field":"v","type":"quantitative","scale":{"domain":[0,4],"range":[257,14],"nice":false},"axis":{"title":"Total Bifurcations","titlePadding":4,"labelOverlap":false,"values":[0,0.5,1,1.5,2,2.5,3,3.5,4]}},
     "fill":{"field":"g","type":"nominal","scale":{"domain":["Saline","Nicotine"],"range":["white","black"]},"legend":{"legendX":532,"legendY":-10,"rowPadding":7}}}},
   {"data":{"values":[{}]},"mark":{"type":"rule","strokeDash":[7,5],"strokeWidth":2,"color":"black"},"encoding":{"x":{"datum":-3,"type":"quantitative","axis":{"title":"Distance fom soma","labelOffset":8,"labelOverlap":false,"labelFlush":false,"values":[-175,-165,-155,-145,-135,-125,-115,-105,-95,-85,-75,-65,-55,-45,-35,-25,-15,-5,5,15,25,35,45,55,65,75,85,95,105,115,125,135,145,155,165,175],"labelExpr":"abs(datum.value + 5) % 20 == 10 ? '' + (datum.value + 5) : ''"}},"y":{"datum":0,"type":"quantitative","axis":{"title":"Total Bifurcations","titlePadding":4,"labelOverlap":false,"values":[0,0.5,1,1.5,2,2.5,3,3.5,4]}},"y2":{"datum":3.52}}},
   {"data":{"values":[{"t":"Basal"}]},"mark":{"type":"text","fontSize":16,"fontWeight":"bold","color":"black"},"encoding":{"text":{"field":"t","type":"nominal"},"x":{"datum":-80,"type":"quantitative","axis":{"title":"Distance fom soma","labelOffset":8,"labelOverlap":false,"labelFlush":false,"values":[-175,-165,-155,-145,-135,-125,-115,-105,-95,-85,-75,-65,-55,-45,-35,-25,-15,-5,5,15,25,35,45,55,65,75,85,95,105,115,125,135,145,155,165,175],"labelExpr":"abs(datum.value + 5) % 20 == 10 ? '' + (datum.value + 5) : ''"}},"y":{"datum":3.85,"type":"quantitative","axis":{"title":"Total Bifurcations","titlePadding":4,"labelOverlap":false,"values":[0,0.5,1,1.5,2,2.5,3,3.5,4]}}}},
   {"data":{"values":[{"t":"Apical"}]},"mark":{"type":"text","fontSize":16,"fontWeight":"bold","color":"black"},"encoding":{"text":{"field":"t","type":"nominal"},"x":{"datum":96,"type":"quantitative","axis":{"title":"Distance fom soma","labelOffset":8,"labelOverlap":false,"labelFlush":false,"values":[-175,-165,-155,-145,-135,-125,-115,-105,-95,-85,-75,-65,-55,-45,-35,-25,-15,-5,5,15,25,35,45,55,65,75,85,95,105,115,125,135,145,155,165,175],"labelExpr":"abs(datum.value + 5) % 20 == 10 ? '' + (datum.value + 5) : ''"}},"y":{"datum":3.92,"type":"quantitative","axis":{"title":"Total Bifurcations","titlePadding":4,"labelOverlap":false,"values":[0,0.5,1,1.5,2,2.5,3,3.5,4]}}}},
   {"data":{"values":[{"t":"Bifurcations"}]},"mark":{"type":"text","fontSize":15,"fontWeight":"bold","color":"black"},"encoding":{"text":{"field":"t","type":"nominal"},"x":{"datum":-3,"type":"quantitative","axis":{"title":"Distance fom soma","labelOffset":8,"labelOverlap":false,"labelFlush":false,"values":[-175,-165,-155,-145,-135,-125,-115,-105,-95,-85,-75,-65,-55,-45,-35,-25,-15,-5,5,15,25,35,45,55,65,75,85,95,105,115,125,135,145,155,165,175],"labelExpr":"abs(datum.value + 5) % 20 == 10 ? '' + (datum.value + 5) : ''"}},"y":{"datum":4.2,"type":"quantitative","axis":{"title":"Total Bifurcations","titlePadding":4,"labelOverlap":false,"values":[0,0.5,1,1.5,2,2.5,3,3.5,4]}}}}
  ]}
 ]},
{"title":{"text":"Adult Exposure","fontSize":28,"fontWeight":"bold","font":"Lato","color":"black","anchor":"middle","offset":24},
 "bounds":"flush","spacing":99,
 "resolve":{"scale":{"fill":"independent","x":"independent","y":"independent"},"legend":{"fill":"independent"}},
 "vconcat":[
 {"width":550,"height":264,"data":{"name":"bi"},
  "layer":[
   {"transform":[{"filter":"datum.e > 0"}],"mark":{"type":"errorbar","ticks":{"size":7},"color":"#555","thickness":1},"encoding":{
     "x":{"field":"d","type":"quantitative","scale":{"domain":[-175,175],"nice":false,"zero":false},"axis":{"title":"Distance from soma","labelOffset":8,"labelOverlap":false,"labelFlush":false,"values":[-175,-165,-155,-145,-135,-125,-115,-105,-95,-85,-75,-65,-55,-45,-35,-25,-15,-5,5,15,25,35,45,55,65,75,85,95,105,115,125,135,145,155,165,175],"labelExpr":"abs(datum.value + 5) % 20 == 10 ? '' + (datum.value + 5) : ''"}},
     "y":{"field":"v","type":"quantitative","scale":{"domain":[0,14],"nice":false},"axis":{"title":"Number of intersections","titlePadding":10,"labelOverlap":false,"values":[0,2,4,6,8,10,12,14]}},
     "yError":{"field":"e"}}},
   {"mark":{"type":"line","color":"black","strokeWidth":2.2},"encoding":{
     "x":{"field":"d","type":"quantitative","scale":{"domain":[-175,175],"nice":false,"zero":false},"axis":{"title":"Distance from soma","labelOffset":8,"labelOverlap":false,"labelFlush":false,"values":[-175,-165,-155,-145,-135,-125,-115,-105,-95,-85,-75,-65,-55,-45,-35,-25,-15,-5,5,15,25,35,45,55,65,75,85,95,105,115,125,135,145,155,165,175],"labelExpr":"abs(datum.value + 5) % 20 == 10 ? '' + (datum.value + 5) : ''"}},
     "y":{"field":"v","type":"quantitative","scale":{"domain":[0,14],"nice":false},"axis":{"title":"Number of intersections","titlePadding":10,"labelOverlap":false,"values":[0,2,4,6,8,10,12,14]}},
     "detail":{"field":"g"}}},
   {"mark":{"type":"point","shape":"square","filled":true,"size":75,"stroke":"black","strokeWidth":1,"opacity":1},"encoding":{
     "x":{"field":"d","type":"quantitative","scale":{"domain":[-175,175],"nice":false,"zero":false},"axis":{"title":"Distance from soma","labelOffset":8,"labelOverlap":false,"labelFlush":false,"values":[-175,-165,-155,-145,-135,-125,-115,-105,-95,-85,-75,-65,-55,-45,-35,-25,-15,-5,5,15,25,35,45,55,65,75,85,95,105,115,125,135,145,155,165,175],"labelExpr":"abs(datum.value + 5) % 20 == 10 ? '' + (datum.value + 5) : ''"}},
     "y":{"field":"v","type":"quantitative","scale":{"domain":[0,14],"nice":false},"axis":{"title":"Number of intersections","titlePadding":10,"labelOverlap":false,"values":[0,2,4,6,8,10,12,14]}},
     "fill":{"field":"g","type":"nominal","scale":{"domain":["Saline","Nicotine"],"range":["white","black"]},"legend":{"legendX":500,"legendY":-27,"rowPadding":5}}}},
   {"data":{"values":[{}]},"mark":{"type":"rule","strokeDash":[7,5],"strokeWidth":2,"color":"black"},"encoding":{"x":{"datum":-3,"type":"quantitative","axis":{"title":"Distance from soma","labelOffset":8,"labelOverlap":false,"labelFlush":false,"values":[-175,-165,-155,-145,-135,-125,-115,-105,-95,-85,-75,-65,-55,-45,-35,-25,-15,-5,5,15,25,35,45,55,65,75,85,95,105,115,125,135,145,155,165,175],"labelExpr":"abs(datum.value + 5) % 20 == 10 ? '' + (datum.value + 5) : ''"}},"y":{"datum":0,"type":"quantitative","axis":{"title":"Number of intersections","titlePadding":10,"labelOverlap":false,"values":[0,2,4,6,8,10,12,14]}},"y2":{"datum":11.5}}},
   {"data":{"values":[{"t":"Basal"}]},"mark":{"type":"text","fontSize":16,"fontWeight":"bold","color":"black"},"encoding":{"text":{"field":"t","type":"nominal"},"x":{"datum":-84,"type":"quantitative","axis":{"title":"Distance from soma","labelOffset":8,"labelOverlap":false,"labelFlush":false,"values":[-175,-165,-155,-145,-135,-125,-115,-105,-95,-85,-75,-65,-55,-45,-35,-25,-15,-5,5,15,25,35,45,55,65,75,85,95,105,115,125,135,145,155,165,175],"labelExpr":"abs(datum.value + 5) % 20 == 10 ? '' + (datum.value + 5) : ''"}},"y":{"datum":12.5,"type":"quantitative","axis":{"title":"Number of intersections","titlePadding":10,"labelOverlap":false,"values":[0,2,4,6,8,10,12,14]}}}},
   {"data":{"values":[{"t":"Apical"}]},"mark":{"type":"text","fontSize":16,"fontWeight":"bold","color":"black"},"encoding":{"text":{"field":"t","type":"nominal"},"x":{"datum":86,"type":"quantitative","axis":{"title":"Distance from soma","labelOffset":8,"labelOverlap":false,"labelFlush":false,"values":[-175,-165,-155,-145,-135,-125,-115,-105,-95,-85,-75,-65,-55,-45,-35,-25,-15,-5,5,15,25,35,45,55,65,75,85,95,105,115,125,135,145,155,165,175],"labelExpr":"abs(datum.value + 5) % 20 == 10 ? '' + (datum.value + 5) : ''"}},"y":{"datum":12.7,"type":"quantitative","axis":{"title":"Number of intersections","titlePadding":10,"labelOverlap":false,"values":[0,2,4,6,8,10,12,14]}}}},
   {"data":{"values":[{"t":"Intersections"}]},"mark":{"type":"text","fontSize":15,"fontWeight":"bold","color":"black"},"encoding":{"text":{"field":"t","type":"nominal"},"x":{"datum":-2.5,"type":"quantitative","axis":{"title":"Distance from soma","labelOffset":8,"labelOverlap":false,"labelFlush":false,"values":[-175,-165,-155,-145,-135,-125,-115,-105,-95,-85,-75,-65,-55,-45,-35,-25,-15,-5,5,15,25,35,45,55,65,75,85,95,105,115,125,135,145,155,165,175],"labelExpr":"abs(datum.value + 5) % 20 == 10 ? '' + (datum.value + 5) : ''"}},"y":{"datum":14.3,"type":"quantitative","axis":{"title":"Number of intersections","titlePadding":10,"labelOverlap":false,"values":[0,2,4,6,8,10,12,14]}}}}
  ]},
 {"width":550,"height":238,"data":{"name":"bl"},
  "layer":[
   {"transform":[{"filter":"datum.e > 0"}],"mark":{"type":"errorbar","ticks":{"size":7},"color":"#555","thickness":1},"encoding":{
     "x":{"field":"d","type":"quantitative","scale":{"domain":[-175,175],"nice":false,"zero":false},"axis":{"title":"Distance from soma","labelOffset":8,"labelOverlap":false,"labelFlush":false,"values":[-175,-165,-155,-145,-135,-125,-115,-105,-95,-85,-75,-65,-55,-45,-35,-25,-15,-5,5,15,25,35,45,55,65,75,85,95,105,115,125,135,145,155,165,175],"labelExpr":"abs(datum.value + 5) % 20 == 10 ? '' + (datum.value + 5) : ''"}},
     "y":{"field":"v","type":"quantitative","scale":{"domain":[0,180],"nice":false},"axis":{"title":"Total dendritic length (uM)","titlePadding":4,"labelOverlap":false,"values":[0,20,40,60,80,100,120,140,160,180]}},
     "yError":{"field":"e"}}},
   {"mark":{"type":"line","color":"black","strokeWidth":2.2},"encoding":{
     "x":{"field":"d","type":"quantitative","scale":{"domain":[-175,175],"nice":false,"zero":false},"axis":{"title":"Distance from soma","labelOffset":8,"labelOverlap":false,"labelFlush":false,"values":[-175,-165,-155,-145,-135,-125,-115,-105,-95,-85,-75,-65,-55,-45,-35,-25,-15,-5,5,15,25,35,45,55,65,75,85,95,105,115,125,135,145,155,165,175],"labelExpr":"abs(datum.value + 5) % 20 == 10 ? '' + (datum.value + 5) : ''"}},
     "y":{"field":"v","type":"quantitative","scale":{"domain":[0,180],"nice":false},"axis":{"title":"Total dendritic length (uM)","titlePadding":4,"labelOverlap":false,"values":[0,20,40,60,80,100,120,140,160,180]}},
     "detail":{"field":"g"}}},
   {"mark":{"type":"point","shape":"square","filled":true,"size":75,"stroke":"black","strokeWidth":1,"opacity":1},"encoding":{
     "x":{"field":"d","type":"quantitative","scale":{"domain":[-175,175],"nice":false,"zero":false},"axis":{"title":"Distance from soma","labelOffset":8,"labelOverlap":false,"labelFlush":false,"values":[-175,-165,-155,-145,-135,-125,-115,-105,-95,-85,-75,-65,-55,-45,-35,-25,-15,-5,5,15,25,35,45,55,65,75,85,95,105,115,125,135,145,155,165,175],"labelExpr":"abs(datum.value + 5) % 20 == 10 ? '' + (datum.value + 5) : ''"}},
     "y":{"field":"v","type":"quantitative","scale":{"domain":[0,180],"nice":false},"axis":{"title":"Total dendritic length (uM)","titlePadding":4,"labelOverlap":false,"values":[0,20,40,60,80,100,120,140,160,180]}},
     "fill":{"field":"g","type":"nominal","scale":{"domain":["Saline","Nicotine"],"range":["white","black"]},"legend":{"legendX":498,"legendY":-21,"rowPadding":6}}}},
   {"data":{"values":[{}]},"mark":{"type":"rule","strokeDash":[7,5],"strokeWidth":2,"color":"black"},"encoding":{"x":{"datum":-2.5,"type":"quantitative","axis":{"title":"Distance from soma","labelOffset":8,"labelOverlap":false,"labelFlush":false,"values":[-175,-165,-155,-145,-135,-125,-115,-105,-95,-85,-75,-65,-55,-45,-35,-25,-15,-5,5,15,25,35,45,55,65,75,85,95,105,115,125,135,145,155,165,175],"labelExpr":"abs(datum.value + 5) % 20 == 10 ? '' + (datum.value + 5) : ''"}},"y":{"datum":0,"type":"quantitative","axis":{"title":"Total dendritic length (uM)","titlePadding":4,"labelOverlap":false,"values":[0,20,40,60,80,100,120,140,160,180]}},"y2":{"datum":162}}},
   {"data":{"values":[{"t":"Basal"}]},"mark":{"type":"text","fontSize":16,"fontWeight":"bold","color":"black"},"encoding":{"text":{"field":"t","type":"nominal"},"x":{"datum":-76,"type":"quantitative","axis":{"title":"Distance from soma","labelOffset":8,"labelOverlap":false,"labelFlush":false,"values":[-175,-165,-155,-145,-135,-125,-115,-105,-95,-85,-75,-65,-55,-45,-35,-25,-15,-5,5,15,25,35,45,55,65,75,85,95,105,115,125,135,145,155,165,175],"labelExpr":"abs(datum.value + 5) % 20 == 10 ? '' + (datum.value + 5) : ''"}},"y":{"datum":169,"type":"quantitative","axis":{"title":"Total dendritic length (uM)","titlePadding":4,"labelOverlap":false,"values":[0,20,40,60,80,100,120,140,160,180]}}}},
   {"data":{"values":[{"t":"Apical"}]},"mark":{"type":"text","fontSize":16,"fontWeight":"bold","color":"black"},"encoding":{"text":{"field":"t","type":"nominal"},"x":{"datum":96,"type":"quantitative","axis":{"title":"Distance from soma","labelOffset":8,"labelOverlap":false,"labelFlush":false,"values":[-175,-165,-155,-145,-135,-125,-115,-105,-95,-85,-75,-65,-55,-45,-35,-25,-15,-5,5,15,25,35,45,55,65,75,85,95,105,115,125,135,145,155,165,175],"labelExpr":"abs(datum.value + 5) % 20 == 10 ? '' + (datum.value + 5) : ''"}},"y":{"datum":172,"type":"quantitative","axis":{"title":"Total dendritic length (uM)","titlePadding":4,"labelOverlap":false,"values":[0,20,40,60,80,100,120,140,160,180]}}}},
   {"data":{"values":[{"t":"Lengths"}]},"mark":{"type":"text","fontSize":15,"fontWeight":"bold","color":"black"},"encoding":{"text":{"field":"t","type":"nominal"},"x":{"datum":0,"type":"quantitative","axis":{"title":"Distance from soma","labelOffset":8,"labelOverlap":false,"labelFlush":false,"values":[-175,-165,-155,-145,-135,-125,-115,-105,-95,-85,-75,-65,-55,-45,-35,-25,-15,-5,5,15,25,35,45,55,65,75,85,95,105,115,125,135,145,155,165,175],"labelExpr":"abs(datum.value + 5) % 20 == 10 ? '' + (datum.value + 5) : ''"}},"y":{"datum":190.2,"type":"quantitative","axis":{"title":"Total dendritic length (uM)","titlePadding":4,"labelOverlap":false,"values":[0,20,40,60,80,100,120,140,160,180]}}}}
  ]},
 {"width":550,"height":243,"data":{"name":"bb"},
  "layer":[
   {"transform":[{"filter":"datum.e > 0"}],"mark":{"type":"errorbar","ticks":{"size":7},"color":"#555","thickness":1},"encoding":{
     "x":{"field":"d","type":"quantitative","scale":{"domain":[-175,175],"nice":false,"zero":false},"axis":{"title":"Distance from soma","labelOffset":8,"labelOverlap":false,"labelFlush":false,"values":[-175,-165,-155,-145,-135,-125,-115,-105,-95,-85,-75,-65,-55,-45,-35,-25,-15,-5,5,15,25,35,45,55,65,75,85,95,105,115,125,135,145,155,165,175],"labelExpr":"abs(datum.value + 5) % 20 == 10 ? '' + (datum.value + 5) : ''"}},
     "y":{"field":"v","type":"quantitative","scale":{"domain":[0,4],"nice":false},"axis":{"title":"Total bifurcations","titlePadding":3,"labelOverlap":false,"values":[0,0.5,1,1.5,2,2.5,3,3.5,4]}},
     "yError":{"field":"e"}}},
   {"mark":{"type":"line","color":"black","strokeWidth":2.2},"encoding":{
     "x":{"field":"d","type":"quantitative","scale":{"domain":[-175,175],"nice":false,"zero":false},"axis":{"title":"Distance from soma","labelOffset":8,"labelOverlap":false,"labelFlush":false,"values":[-175,-165,-155,-145,-135,-125,-115,-105,-95,-85,-75,-65,-55,-45,-35,-25,-15,-5,5,15,25,35,45,55,65,75,85,95,105,115,125,135,145,155,165,175],"labelExpr":"abs(datum.value + 5) % 20 == 10 ? '' + (datum.value + 5) : ''"}},
     "y":{"field":"v","type":"quantitative","scale":{"domain":[0,4],"nice":false},"axis":{"title":"Total bifurcations","titlePadding":3,"labelOverlap":false,"values":[0,0.5,1,1.5,2,2.5,3,3.5,4]}},
     "detail":{"field":"g"}}},
   {"mark":{"type":"point","shape":"square","filled":true,"size":75,"stroke":"black","strokeWidth":1,"opacity":1},"encoding":{
     "x":{"field":"d","type":"quantitative","scale":{"domain":[-175,175],"nice":false,"zero":false},"axis":{"title":"Distance from soma","labelOffset":8,"labelOverlap":false,"labelFlush":false,"values":[-175,-165,-155,-145,-135,-125,-115,-105,-95,-85,-75,-65,-55,-45,-35,-25,-15,-5,5,15,25,35,45,55,65,75,85,95,105,115,125,135,145,155,165,175],"labelExpr":"abs(datum.value + 5) % 20 == 10 ? '' + (datum.value + 5) : ''"}},
     "y":{"field":"v","type":"quantitative","scale":{"domain":[0,4],"nice":false},"axis":{"title":"Total bifurcations","titlePadding":3,"labelOverlap":false,"values":[0,0.5,1,1.5,2,2.5,3,3.5,4]}},
     "fill":{"field":"g","type":"nominal","scale":{"domain":["Saline","Nicotine"],"range":["white","black"]},"legend":{"legendX":490,"legendY":-17,"rowPadding":6}}}},
   {"data":{"values":[{}]},"mark":{"type":"rule","strokeDash":[7,5],"strokeWidth":2,"color":"black"},"encoding":{"x":{"datum":-2.5,"type":"quantitative","axis":{"title":"Distance from soma","labelOffset":8,"labelOverlap":false,"labelFlush":false,"values":[-175,-165,-155,-145,-135,-125,-115,-105,-95,-85,-75,-65,-55,-45,-35,-25,-15,-5,5,15,25,35,45,55,65,75,85,95,105,115,125,135,145,155,165,175],"labelExpr":"abs(datum.value + 5) % 20 == 10 ? '' + (datum.value + 5) : ''"}},"y":{"datum":0,"type":"quantitative","axis":{"title":"Total bifurcations","titlePadding":3,"labelOverlap":false,"values":[0,0.5,1,1.5,2,2.5,3,3.5,4]}},"y2":{"datum":3.65}}},
   {"data":{"values":[{"t":"Basal"}]},"mark":{"type":"text","fontSize":16,"fontWeight":"bold","color":"black"},"encoding":{"text":{"field":"t","type":"nominal"},"x":{"datum":-72,"type":"quantitative","axis":{"title":"Distance from soma","labelOffset":8,"labelOverlap":false,"labelFlush":false,"values":[-175,-165,-155,-145,-135,-125,-115,-105,-95,-85,-75,-65,-55,-45,-35,-25,-15,-5,5,15,25,35,45,55,65,75,85,95,105,115,125,135,145,155,165,175],"labelExpr":"abs(datum.value + 5) % 20 == 10 ? '' + (datum.value + 5) : ''"}},"y":{"datum":3.75,"type":"quantitative","axis":{"title":"Total bifurcations","titlePadding":3,"labelOverlap":false,"values":[0,0.5,1,1.5,2,2.5,3,3.5,4]}}}},
   {"data":{"values":[{"t":"Apical"}]},"mark":{"type":"text","fontSize":16,"fontWeight":"bold","color":"black"},"encoding":{"text":{"field":"t","type":"nominal"},"x":{"datum":101,"type":"quantitative","axis":{"title":"Distance from soma","labelOffset":8,"labelOverlap":false,"labelFlush":false,"values":[-175,-165,-155,-145,-135,-125,-115,-105,-95,-85,-75,-65,-55,-45,-35,-25,-15,-5,5,15,25,35,45,55,65,75,85,95,105,115,125,135,145,155,165,175],"labelExpr":"abs(datum.value + 5) % 20 == 10 ? '' + (datum.value + 5) : ''"}},"y":{"datum":3.82,"type":"quantitative","axis":{"title":"Total bifurcations","titlePadding":3,"labelOverlap":false,"values":[0,0.5,1,1.5,2,2.5,3,3.5,4]}}}},
   {"data":{"values":[{"t":"Bifurcations"}]},"mark":{"type":"text","fontSize":15,"fontWeight":"bold","color":"black"},"encoding":{"text":{"field":"t","type":"nominal"},"x":{"datum":-5,"type":"quantitative","axis":{"title":"Distance from soma","labelOffset":8,"labelOverlap":false,"labelFlush":false,"values":[-175,-165,-155,-145,-135,-125,-115,-105,-95,-85,-75,-65,-55,-45,-35,-25,-15,-5,5,15,25,35,45,55,65,75,85,95,105,115,125,135,145,155,165,175],"labelExpr":"abs(datum.value + 5) % 20 == 10 ? '' + (datum.value + 5) : ''"}},"y":{"datum":4.2,"type":"quantitative","axis":{"title":"Total bifurcations","titlePadding":3,"labelOverlap":false,"values":[0,0.5,1,1.5,2,2.5,3,3.5,4]}}}}
  ]}
 ]}
],
"spacing":40,
"resolve":{"scale":{"fill":"independent","x":"independent","y":"independent"},"legend":{"fill":"independent"}}
}
